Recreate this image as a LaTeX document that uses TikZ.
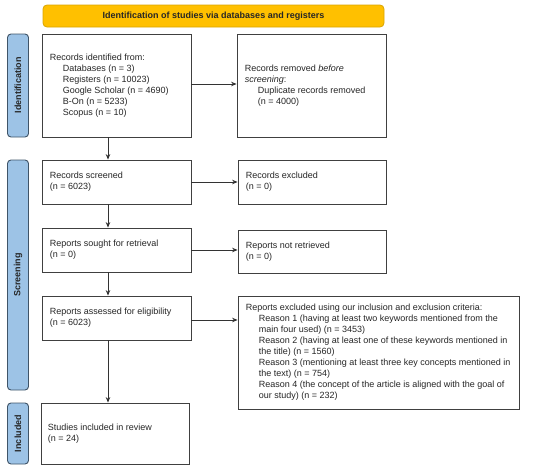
\documentclass[tikz,border=0pt]{standalone}
\usepackage{fontspec}
\setmainfont{Liberation Sans}
\usetikzlibrary{arrows.meta,positioning}
\definecolor{bannerfill}{HTML}{FFC000}
\definecolor{bannerline}{HTML}{D9A400}
\definecolor{sidefill}{HTML}{9DC3E6}
\definecolor{sideline}{HTML}{3F5468}
\definecolor{boxline}{HTML}{404040}
\tikzset{
  stagebox/.style={draw=boxline, line width=0.8pt, fill=white, inner sep=0pt},
  txt/.style={font=\fontsize{9}{11}\selectfont, align=left, inner sep=0pt, anchor=west, text=black!85},
  sidelabel/.style={draw=sideline, line width=0.9pt, fill=sidefill, rounded corners=3.5pt, inner sep=0pt, minimum width=21pt},
  sidetext/.style={font=\fontsize{9}{11}\selectfont\bfseries, rotate=90, inner sep=0pt, text=black!85},
  banner/.style={draw=bannerline, line width=0.8pt, fill=bannerfill, rounded corners=4pt, inner sep=0pt, font=\fontsize{9}{11}\selectfont\bfseries, text=black!85},
  arr/.style={draw=black!80, line width=0.8pt, -{Stealth[length=5.5pt,width=4.5pt]}}
}
\newcommand{\ind}{\hspace*{13pt}}
\begin{document}
\begin{tikzpicture}[x=1pt,y=-1pt]
\useasboundingbox (0,0) rectangle (550,471);
% banner
\node[banner, minimum width=341pt, minimum height=22pt] (ban) at (213.5,16) {Identification of studies via databases and registers};
% side labels
\node[sidelabel, minimum height=103pt] (sid) at (18,85.5) {};
\node[sidetext] (sidt) at (sid.center) {Identification};
\node[sidelabel, minimum height=230pt] (sscr) at (18,275) {};
\node[sidetext] (sscrt) at (sscr.center) {Screening};
\node[sidelabel, minimum height=61pt] (sinc) at (18,433.5) {};
\node[sidetext] (sinct) at (sinc.center) {Included};
% boxes
\node[stagebox, minimum width=149pt, minimum height=103pt] (b1) at (116.5,85.5) {};
\node[txt] (t1) at ([xshift=8pt]b1.west) {Records identified from:\\
\ind Databases (n = 3)\\
\ind Registers (n = 10023)\\
\ind Google Scholar (n = 4690)\\
\ind B-On (n = 5233)\\
\ind Scopus (n = 10)};
\node[stagebox, minimum width=149pt, minimum height=103pt] (b2) at (311.5,85.5) {};
\node[txt] (t2) at ([xshift=8pt]b2.west) {Records removed \emph{before}\\
\emph{screening}:\\
\ind Duplicate records removed\\
\ind (n = 4000)};
\node[stagebox, minimum width=149pt, minimum height=44pt] (b3) at (116.5,182) {};
\node[txt] (t3) at ([xshift=8pt]b3.west) {Records screened\\(n = 6023)};
\node[stagebox, minimum width=148pt, minimum height=44pt] (b4) at (312,182) {};
\node[txt] (t4) at ([xshift=8pt]b4.west) {Records excluded\\(n = 0)};
\node[stagebox, minimum width=149pt, minimum height=44pt] (b5) at (116.5,250) {};
\node[txt] (t5) at ([xshift=8pt]b5.west) {Reports sought for retrieval\\(n = 0)};
\node[stagebox, minimum width=148pt, minimum height=43pt] (b6) at (312,251.5) {};
\node[txt] (t6) at ([xshift=8pt]b6.west) {Reports not retrieved\\(n = 0)};
\node[stagebox, minimum width=149pt, minimum height=44pt] (b7) at (116.5,318) {};
\node[txt] (t7) at ([xshift=8pt]b7.west) {Reports assessed for eligibility\\(n = 6023)};
\node[stagebox, minimum width=281pt, minimum height=113pt] (b8) at (378.5,352.5) {};
\node[txt] (t8) at ([xshift=8pt]b8.west) {Reports excluded using our inclusion and exclusion criteria:\\
\ind Reason 1 (having at least two keywords mentioned from the\\
\ind main four used) (n = 3453)\\
\ind Reason 2 (having at least one of these keywords mentioned in\\
\ind the title) (n = 1560)\\
\ind Reason 3 (mentioning at least three key concepts mentioned in\\
\ind the text) (n = 754)\\
\ind Reason 4 (the concept of the article is aligned with the goal of\\
\ind our study) (n = 232)};
\node[stagebox, minimum width=148pt, minimum height=61pt] (b9) at (115,433.5) {};
\node[txt] (t9) at ([xshift=7pt]b9.west) {Studies included in review\\(n = 24)};
% arrows
\draw[arr] ([yshift=1.5pt]b1.east) -- ([yshift=1.5pt]b1.east -| b2.west);
\draw[arr] (b3.east) -- (b3.east -| b4.west);
\draw[arr] (b5.east) -- (b5.east -| b6.west);
\draw[arr] ([yshift=-2pt]b7.east) -- ([yshift=-2pt]b7.east -| b8.west);
\draw[arr] ([xshift=-8.5pt]b1.south) -- ([xshift=-8.5pt]b3.north);
\draw[arr] ([xshift=-8.5pt]b3.south) -- ([xshift=-8.5pt]b5.north);
\draw[arr] ([xshift=-8.5pt]b5.south) -- ([xshift=-8.5pt]b7.north);
\draw[arr] ([xshift=-8.5pt]b7.south) -- ([xshift=-8.5pt]b7.south |- b9.north);
\end{tikzpicture}
\end{document}
